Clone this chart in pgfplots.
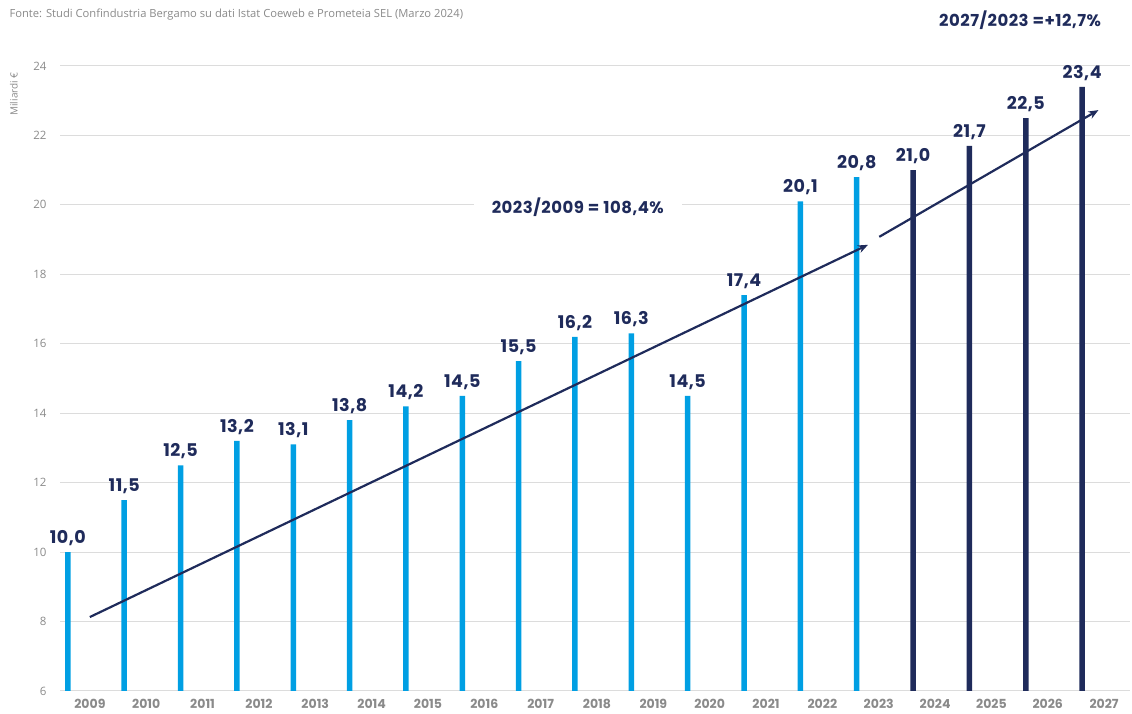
\documentclass[border=0pt]{standalone}
\usepackage{fontspec}
\setmainfont{Liberation Sans}
\newfontfamily\pop{Poppins}
\newfontfamily\popw{Poppins}[LetterSpace=3]
\newfontfamily\osans{Open Sans}
\usepackage{pgfplots}
\pgfplotsset{compat=1.18}
\usetikzlibrary{arrows.meta}

\definecolor{lightblue}{HTML}{009FE3}
\definecolor{navy}{HTML}{1F2B5B}
\definecolor{tickgray}{HTML}{8A8A8A}
\definecolor{gridgray}{HTML}{DCDCDC}

\begin{document}
\begin{tikzpicture}
\path[use as bounding box] (0,0) rectangle (1132pt,714pt);

\node[anchor=west, font=\osans\fontsize{11.2}{13}\selectfont, text=tickgray] at (6pt,699pt)
    {Fonte: Studi Confindustria Bergamo su dati Istat Coeweb e Prometeia SEL (Marzo 2024)};
\node[rotate=90, font=\osans\fontsize{10}{12}\selectfont, text=tickgray] at (14pt,620pt) {Miliardi €};

\begin{axis}[
    at={(60pt,23pt)}, anchor=south west,
    scale only axis, width=1070pt, height=625pt,
    xmin=-0.14, xmax=18.85, ymin=6, ymax=24,
    ytick={6,8,...,24},
    xtick={0,...,18},
    xticklabels={2009,2010,2011,2012,2013,2014,2015,2016,2017,2018,2019,2020,2021,2022,2023,2024,2025,2026,2027},
    axis line style={draw=none},
    tick style={draw=none},
    ymajorgrids,
    grid style={draw=gridgray, line width=1pt},
    /pgf/number format/assume math mode=true,
    yticklabel style={font=\osans\fontsize{11.5}{13}\selectfont, text=tickgray, xshift=-10pt},
    xticklabel style={font=\pop\bfseries\fontsize{12.5}{14}\selectfont, text=tickgray, xshift=22pt, yshift=-5pt},
    clip mode=individual,
    nodes near coords={\pgfmathprintnumber[fixed,fixed zerofill,precision=1,use comma]{\pgfplotspointmeta}},
    every node near coord/.append style={font=\popw\bfseries\fontsize{17.5}{19}\selectfont, text=navy, anchor=south, yshift=3pt},
]
\addplot[ybar, bar width=5.5pt, bar shift=0pt, fill=lightblue, draw=none] coordinates {
    (0,10.0) (1,11.5) (2,12.5) (3,13.2) (4,13.1) (5,13.8) (6,14.2) (7,14.5)
    (8,15.5) (9,16.2) (10,16.3) (11,14.5) (12,17.4) (13,20.1) (14,20.8)
};
\addplot[ybar, bar width=5.5pt, bar shift=0pt, fill=navy, draw=none] coordinates {
    (15,21.0) (16,21.7) (17,22.5) (18,23.4)
};
\addplot[navy, line width=2.2pt, no marks, nodes near coords={}, -{Stealth[length=10pt,width=8pt]}] coordinates {
    (0.39,8.13) (14.2,18.85)
};
\addplot[navy, line width=2.2pt, no marks, nodes near coords={}, -{Stealth[length=10pt,width=8pt]}] coordinates {
    (14.4,19.08) (18.29,22.73)
};
\node[fill=white, inner xsep=18pt, inner ysep=3pt, font=\popw\bfseries\fontsize{16.5}{18}\selectfont, text=navy] at (axis cs:9.05,19.94) {2023/2009 = 108,4\%};
\node[font=\popw\bfseries\fontsize{16.5}{18}\selectfont, text=navy] at (axis cs:16.9,25.33) {2027/2023 =+12,7\%};
\end{axis}
\end{tikzpicture}
\end{document}
